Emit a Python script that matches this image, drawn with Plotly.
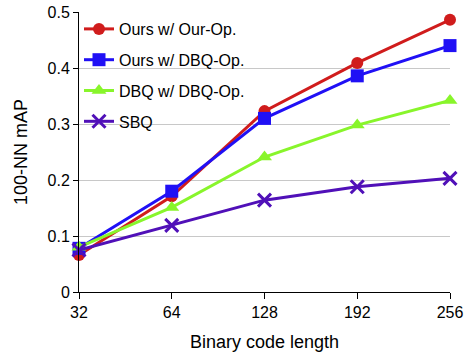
import plotly.graph_objects as go

categories = ["32", "64", "128", "192", "256"]
ours_our_op = [0.066, 0.171, 0.323, 0.409, 0.486]
ours_dbq_op = [0.078, 0.180, 0.310, 0.386, 0.440]
dbq_dbq_op = [0.080, 0.151, 0.241, 0.298, 0.342]
sbq = [0.075, 0.119, 0.164, 0.188, 0.203]
names = ["Ours w/ Our-Op.", "Ours w/ DBQ-Op.", "DBQ w/ DBQ-Op.", "SBQ"]
colors = ["#d01c1c", "#2010f5", "#88f52b", "#5010b8"]
symbols = ["circle", "square", "triangle-up", "x-thin"]
sizes = [12, 13, 13, 13]

fig = go.Figure()
for i, ys in enumerate([ours_our_op, ours_dbq_op, dbq_dbq_op, sbq]):
    marker = dict(symbol=symbols[i], size=sizes[i], color=colors[i])
    if symbols[i] == "x-thin":
        marker["line"] = dict(width=3, color=colors[i])
    fig.add_trace(go.Scatter(
        x=list(range(len(categories))), y=ys, name=names[i], mode="lines+markers",
        line=dict(color=colors[i], width=3), marker=marker, cliponaxis=False,
        legendgroup=str(i),
    ))

fig.update_layout(
    width=468, height=353,
    margin=dict(l=79, r=18, t=12, b=61, autoexpand=False),
    plot_bgcolor="white", paper_bgcolor="white",
    font=dict(family="Liberation Sans, Arial, sans-serif", size=16, color="black"),
    showlegend=True,
    legend=dict(x=0.0, y=1.0, xanchor="left", yanchor="top", bgcolor="rgba(0,0,0,0)",
                font=dict(size=16), tracegroupgap=7),
    xaxis=dict(
        tickmode="array", tickvals=list(range(len(categories))), ticktext=categories,
        range=[0, 4], showgrid=False, showline=True, linecolor="black", linewidth=1,
        ticks="outside", ticklen=6, tickcolor="black", zeroline=False,
        tickfont=dict(size=16), automargin=False,
        title=dict(text="Binary code length", font=dict(size=18)),
    ),
    yaxis=dict(
        range=[0, 0.5], tickvals=[0, 0.1, 0.2, 0.3, 0.4, 0.5],
        ticktext=["0", "0.1", "0.2", "0.3", "0.4", "0.5"],
        showgrid=True, gridcolor="#c8c8c8", gridwidth=1,
        showline=True, linecolor="black", linewidth=1,
        ticks="outside", ticklen=5, tickcolor="black", zeroline=False,
        tickfont=dict(size=16), automargin=False,
        title=dict(text="100-NN mAP", font=dict(size=18)),
    ),
)

fig.write_html("out.html", config={"displayModeBar": False},
               post_script="document.body.style.margin='0';")
